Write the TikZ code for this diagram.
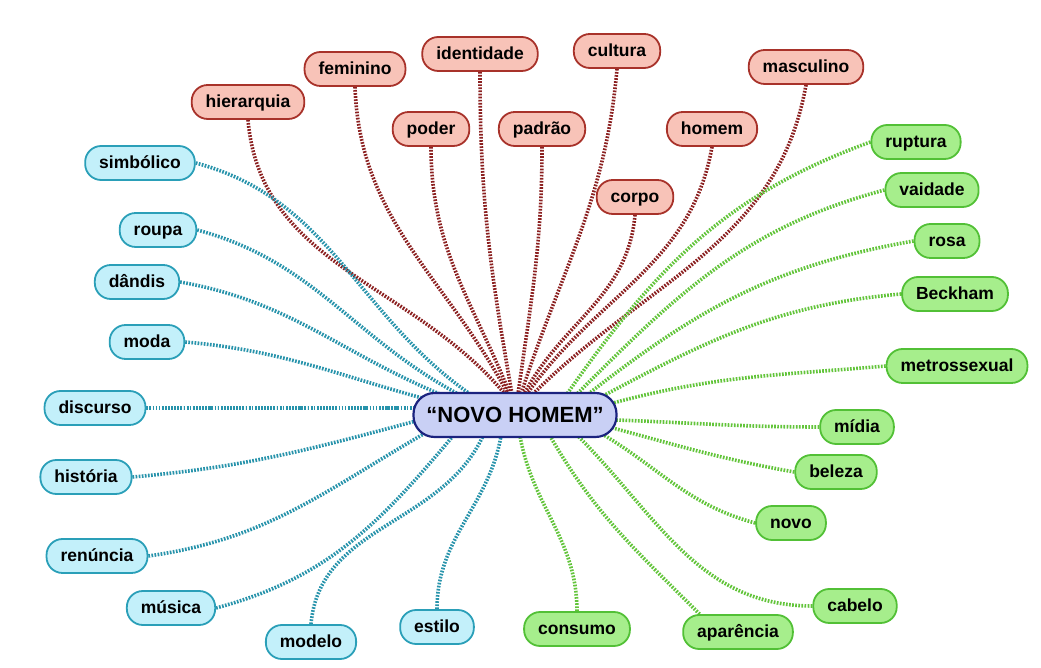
\documentclass[tikz,border=0pt]{standalone}
\usepackage{fontspec}
\setmainfont{Liberation Sans}
\usetikzlibrary{calc,backgrounds}
\definecolor{rfill}{HTML}{F8C3B8}
\definecolor{rdraw}{HTML}{A8322A}
\definecolor{rline}{HTML}{8B2020}
\definecolor{cfill}{HTML}{C3F0FA}
\definecolor{cdraw}{HTML}{2A9FB8}
\definecolor{cline}{HTML}{2793AB}
\definecolor{gfill}{HTML}{A6EE8C}
\definecolor{gdraw}{HTML}{52C036}
\definecolor{gline}{HTML}{62C43A}
\definecolor{mfill}{HTML}{C9D0F5}
\definecolor{mdraw}{HTML}{1B237F}
\tikzset{
  x=1pt,y=1pt,
  bub/.style={rectangle,rounded corners=16pt,minimum height=34pt,inner xsep=14pt,inner ysep=0pt,text height=14pt,text depth=3pt,line width=1.8pt,font=\fontsize{17.5}{17.5}\selectfont\bfseries},
  rbub/.style={bub,fill=rfill,draw=rdraw},
  cbub/.style={bub,fill=cfill,draw=cdraw},
  gbub/.style={bub,fill=gfill,draw=gdraw},
  mainbub/.style={rectangle,rounded corners=21pt,minimum height=44pt,minimum width=203pt,inner xsep=12pt,inner ysep=0pt,text height=17pt,text depth=1pt,line width=2.2pt,fill=mfill,draw=mdraw,font=\fontsize{22}{22}\selectfont\bfseries},
  dots/.style={line width=3.6pt,dash pattern=on 1.7pt off 1.4pt},
  rl/.style={dots,draw=rline},
  cl/.style={dots,draw=cline},
  gl/.style={dots,draw=gline},
}
\begin{document}
\begin{tikzpicture}
\useasboundingbox (0,0) rectangle (1041,668);
\node[mainbub] (c) at (515,253) {“NOVO HOMEM”};
% red
\node[rbub] (hier) at (248,566) {hierarquia};
\node[rbub] (fem) at (355,599) {feminino};
\node[rbub] (iden) at (480,614) {identidade};
\node[rbub] (poder) at (431,539) {poder};
\node[rbub] (padrao) at (542,539) {padrão};
\node[rbub] (cult) at (617,617) {cultura};
\node[rbub] (homem) at (712,539) {homem};
\node[rbub] (corpo) at (635,471) {corpo};
\node[rbub] (masc) at (806,601) {masculino};
% cyan
\node[cbub] (simb) at (140,505) {simbólico};
\node[cbub] (roupa) at (158,438) {roupa};
\node[cbub] (dandis) at (137,386) {dândis};
\node[cbub] (moda) at (147,326) {moda};
\node[cbub] (disc) at (95,260) {discurso};
\node[cbub] (hist) at (86,191) {história};
\node[cbub] (ren) at (97,112) {renúncia};
\node[cbub] (mus) at (171,60) {música};
\node[cbub] (modelo) at (311,26) {modelo};
\node[cbub] (estilo) at (437,41) {estilo};
% green
\node[gbub] (cons) at (577,39) {consumo};
\node[gbub] (apar) at (738,36) {aparência};
\node[gbub] (cab) at (855,62) {cabelo};
\node[gbub] (novo) at (791,145) {novo};
\node[gbub] (bel) at (836,196) {beleza};
\node[gbub] (midia) at (857,241) {mídia};
\node[gbub] (metro) at (957,302) {metrossexual};
\node[gbub] (beck) at (955,374) {Beckham};
\node[gbub] (rosa) at (947,427) {rosa};
\node[gbub] (vaid) at (932,478) {vaidade};
\node[gbub] (rupt) at (916,526) {ruptura};
\begin{scope}[on background layer]
% red connectors
\draw[rl] (hier.south) to[out=-85,in=130] ($(c)+(-10,21)$);
\draw[rl] (fem.south) to[out=-88,in=118] ($(c)+(-7,21)$);
\draw[rl] (iden.south) to[out=-90,in=100] ($(c)+(-3,21)$);
\draw[rl] (poder.south) to[out=-90,in=112] ($(c)+(-5,21)$);
\draw[rl] (padrao.south) to[out=-90,in=82] ($(c)+(3,21)$);
\draw[rl] (cult.south) to[out=-95,in=72] ($(c)+(6,21)$);
\draw[rl] (homem.south) to[out=-100,in=55] ($(c)+(12,21)$);
\draw[rl] (corpo.south) to[out=-95,in=62] ($(c)+(9,21)$);
\draw[rl] (masc.south) to[out=-100,in=45] ($(c)+(18,21)$);
% cyan connectors
\draw[cl] (simb.east) to[out=-15,in=145] ($(c)+(-45,21)$);
\draw[cl] (roupa.east) to[out=-15,in=152] ($(c)+(-55,20)$);
\draw[cl] (dandis.east) to[out=-10,in=158] ($(c)+(-68,18)$);
\draw[cl] (moda.east) to[out=-5,in=165] ($(c)+(-82,14)$);
\draw[cl] (disc.east) to[out=0,in=180] ($(c)+(-100,7)$);
\draw[cl] (hist.east) to[out=5,in=195] ($(c)+(-99,-6)$);
\draw[cl] (ren.east) to[out=8,in=210] ($(c)+(-88,-17)$);
\draw[cl] (mus.east) to[out=15,in=230] ($(c)+(-62,-21)$);
\draw[cl] (modelo.north) to[out=85,in=245] ($(c)+(-32,-21)$);
\draw[cl] (estilo.north) to[out=90,in=260] ($(c)+(-14,-21)$);
% green connectors
\draw[gl] (cons.north) to[out=90,in=-80] ($(c)+(5,-21)$);
\draw[gl] (apar.155) to[out=135,in=-60] ($(c)+(35,-21)$);
\draw[gl] (cab.west) to[out=180,in=-45] ($(c)+(62,-20)$);
\draw[gl] (novo.west) to[out=165,in=-30] ($(c)+(82,-16)$);
\draw[gl] (bel.west) to[out=170,in=-15] ($(c)+(94,-12)$);
\draw[gl] (midia.west) to[out=180,in=-2] ($(c)+(100,-5)$);
\draw[gl] (metro.west) to[out=185,in=15] ($(c)+(98,12)$);
\draw[gl] (beck.west) to[out=185,in=28] ($(c)+(86,18)$);
\draw[gl] (rosa.west) to[out=190,in=38] ($(c)+(72,20)$);
\draw[gl] (vaid.west) to[out=195,in=45] ($(c)+(62,21)$);
\draw[gl] (rupt.west) to[out=200,in=55] ($(c)+(52,21)$);
\end{scope}
\end{tikzpicture}
\end{document}
